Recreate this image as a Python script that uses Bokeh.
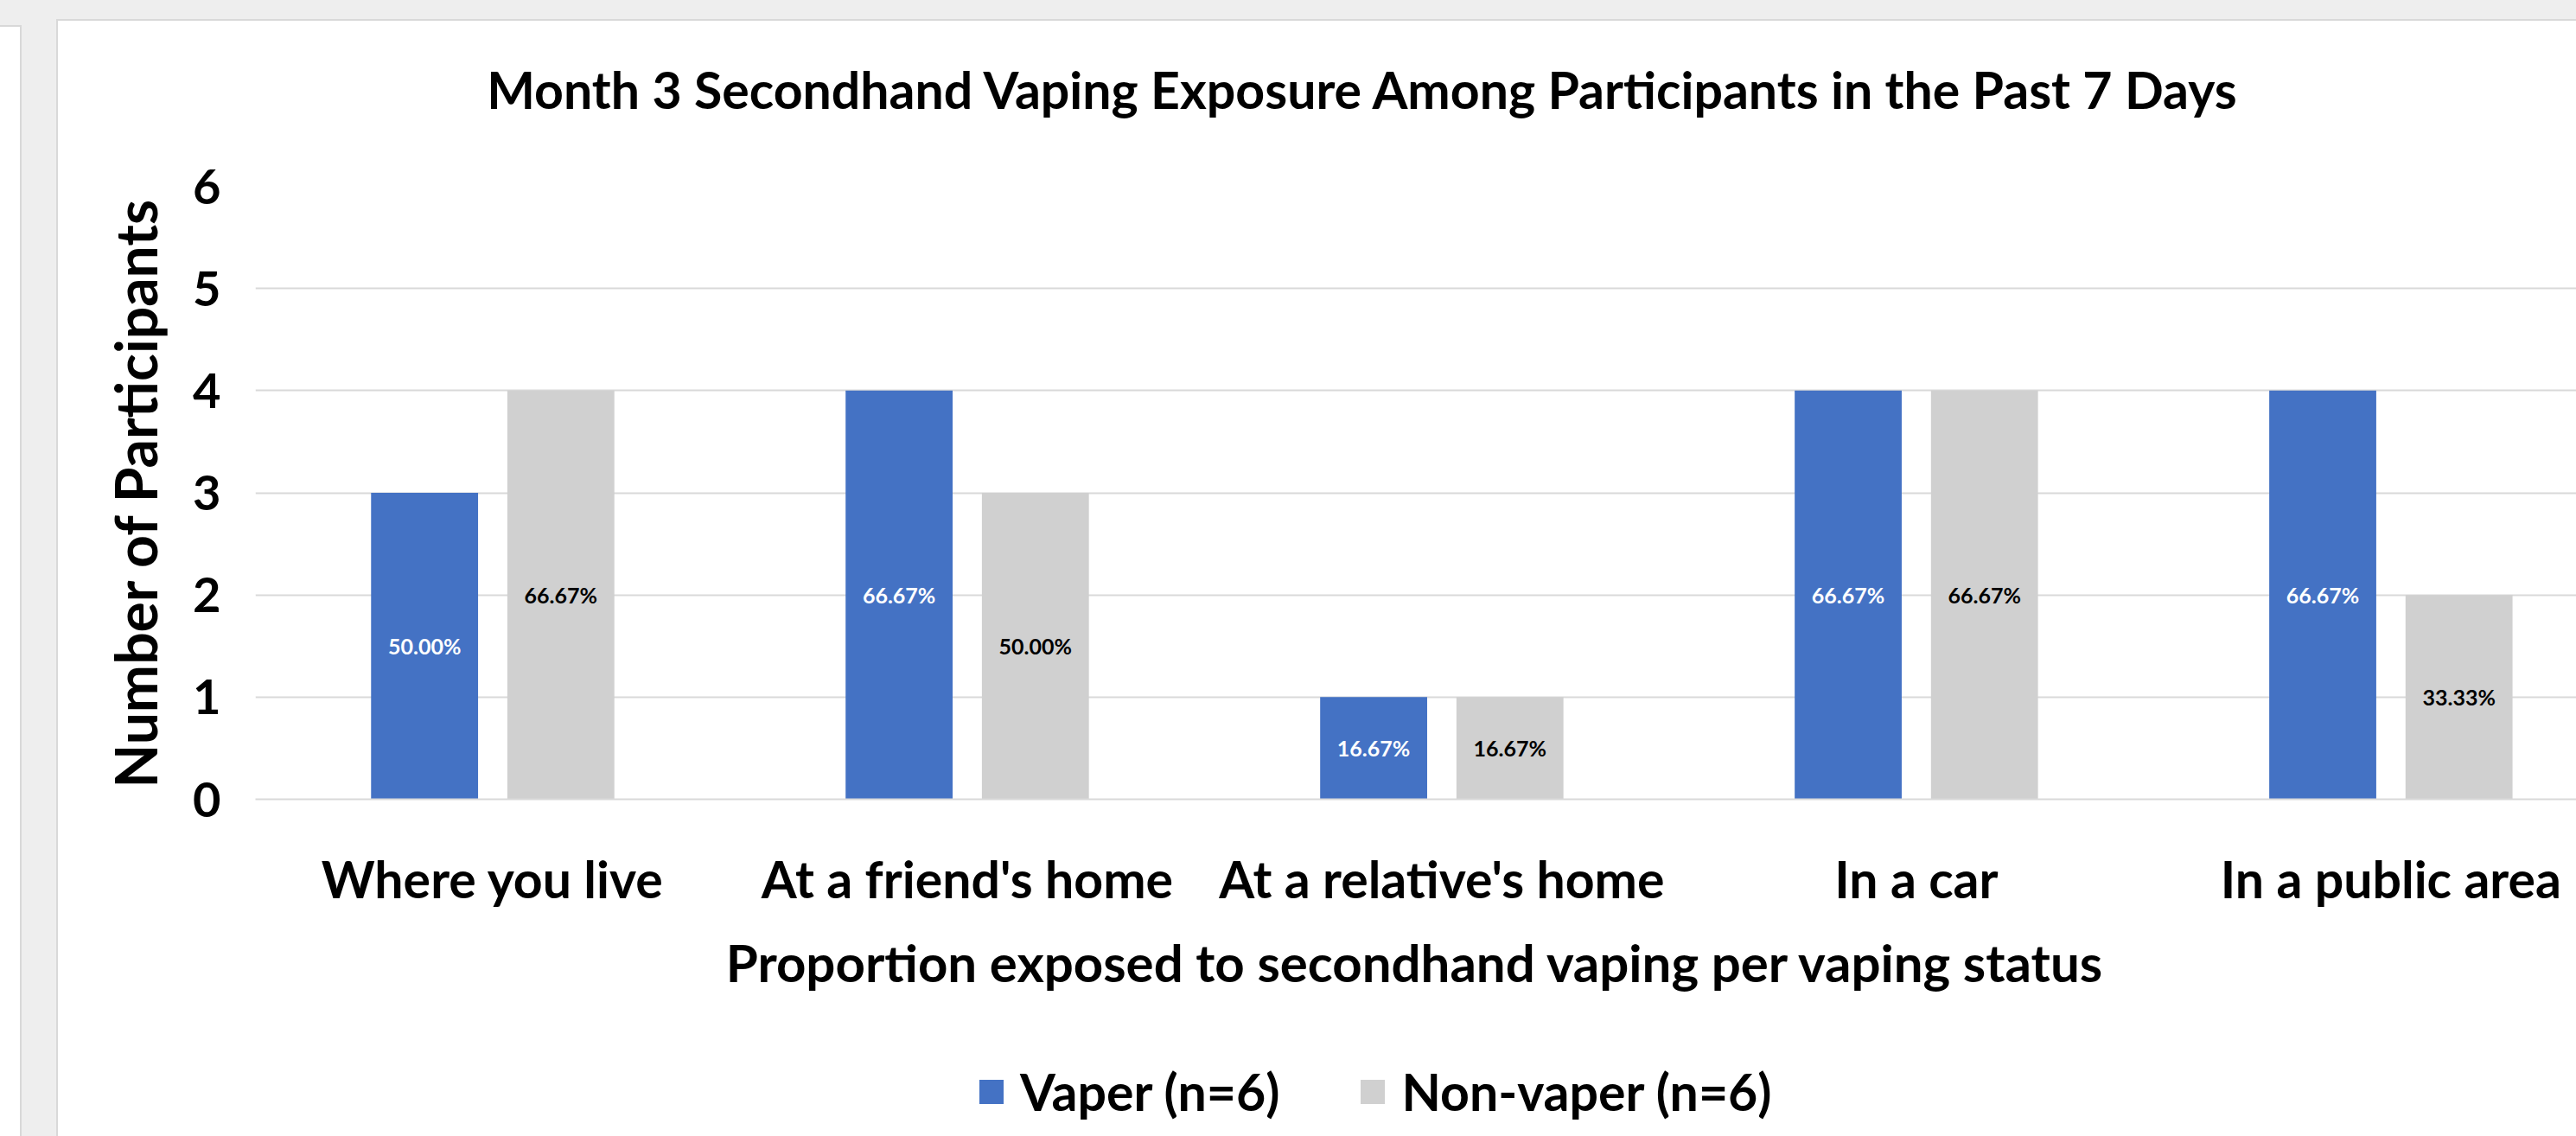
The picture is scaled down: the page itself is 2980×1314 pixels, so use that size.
from bokeh.plotting import figure
from bokeh.models import Range1d, FixedTicker, Legend, LegendItem, Label, Div, ColumnDataSource
from bokeh.layouts import row, column
from bokeh.embed import file_html
from bokeh.resources import INLINE
from bokeh.core.properties import value

# ---- data ----
categories = ["Where you live", "At a friend's home", "At a relative's home", "In a car", "In a public area"]
vaper = [3, 4, 1, 4, 4]
non_vaper = [4, 3, 1, 4, 2]
vaper_labels = ["50.00%", "66.67%", "16.67%", "66.67%", "66.67%"]
non_vaper_labels = ["66.67%", "50.00%", "16.67%", "66.67%", "33.33%"]
series_names = ["Vaper (n=6)", "Non-vaper (n=6)"]
y_ticks = [0, 1, 2, 3, 4, 5, 6]
title_text = "Month 3 Secondhand Vaping Exposure Among Participants in the Past 7 Days"
x_title = "Proportion exposed to secondhand vaping per vaping status"
y_title = "Number of Participants"

BLUE = "#4472C4"
GRAY = "#D0D0D0"
FONT = "Lato"

pos = list(range(1, len(categories) + 1))
off = 0.1436
bw = 0.2255

src_v = ColumnDataSource(dict(x=[p_ - off for p_ in pos], top=vaper,
                              ymid=[v / 2 for v in vaper], lab=vaper_labels))
src_n = ColumnDataSource(dict(x=[p_ + off for p_ in pos], top=non_vaper,
                              ymid=[v / 2 for v in non_vaper], lab=non_vaper_labels))

CARD_W = 2913

def strip(h, xr):
    f = figure(width=CARD_W, height=h, output_backend="svg", toolbar_location=None,
               x_range=xr, y_range=Range1d(0, 1),
               min_border_left=0, min_border_right=0, min_border_top=0, min_border_bottom=0,
               x_axis_location=None, y_axis_location=None,
               background_fill_color=None, border_fill_color=None)
    f.outline_line_color = None
    f.xgrid.visible = False
    f.ygrid.visible = False
    return f

# ---- title strip ----
pt = strip(120, Range1d(0, 1))
pt.add_layout(Label(x=1282, y=41, x_units="screen", y_units="screen", text=title_text,
                    text_font=FONT, text_font_style="bold", text_font_size="59px",
                    text_color="black", text_align="center", text_baseline="alphabetic"))

# ---- main chart ----
p = figure(width=CARD_W, height=1046, output_backend="svg", toolbar_location=None,
           x_range=Range1d(0.5, 0.5 + 4.891), y_range=Range1d(0, 6),
           min_border_left=228, min_border_right=0, min_border_top=71, min_border_bottom=266,
           background_fill_color=None, border_fill_color=None, title=None)
p.outline_line_color = None

rv = p.vbar(x="x", top="top", width=bw, source=src_v, color=BLUE, line_color=None)
rn = p.vbar(x="x", top="top", width=bw, source=src_n, color=GRAY, line_color=None)

p.text(x="x", y="ymid", text="lab", source=src_v, text_color="white",
       text_font=value(FONT), text_font_style="bold", text_font_size="25px",
       text_align="center", text_baseline="middle")
p.text(x="x", y="ymid", text="lab", source=src_n, text_color="black",
       text_font=value(FONT), text_font_style="bold", text_font_size="25px",
       text_align="center", text_baseline="middle")

p.xgrid.grid_line_color = None
p.ygrid.grid_line_color = "#d9d9d9"
p.ygrid.grid_line_width = 2
p.ygrid.ticker = FixedTicker(ticks=y_ticks)

xa = p.xaxis[0]
xa.ticker = FixedTicker(ticks=pos)
xa.major_label_overrides = {k: c for k, c in zip(pos, categories)}
xa.axis_line_color = "#d9d9d9"
xa.axis_line_width = 2
xa.major_tick_line_color = None
xa.minor_tick_line_color = None
xa.major_label_text_font = FONT
xa.major_label_text_font_style = "bold"
xa.major_label_text_font_size = "59px"
xa.major_label_text_color = "black"
xa.major_label_standoff = 50
xa.axis_label = x_title
xa.axis_label_text_font = FONT
xa.axis_label_text_font_style = "bold"
xa.axis_label_text_font_size = "60px"
xa.axis_label_text_color = "black"
xa.axis_label_standoff = 22

ya = p.yaxis[0]
ya.ticker = FixedTicker(ticks=y_ticks)
ya.axis_line_color = None
ya.major_tick_line_color = None
ya.minor_tick_line_color = None
ya.major_label_text_font = FONT
ya.major_label_text_font_style = "bold"
ya.major_label_text_font_size = "56px"
ya.major_label_text_color = "black"
ya.major_label_standoff = 34
ya.axis_label = y_title
ya.axis_label_text_font = FONT
ya.axis_label_text_font_style = "bold"
ya.axis_label_text_font_size = "66px"
ya.axis_label_text_color = "black"
ya.axis_label_standoff = 24

# ---- legend strip ----
pl = strip(124, Range1d(-20, -19))
lv = pl.vbar(x="x", top="top", width=bw, source=src_v, color=BLUE, line_color=None)
ln = pl.vbar(x="x", top="top", width=bw, source=src_n, color=GRAY, line_color=None)
legend = Legend(items=[LegendItem(label=series_names[0], renderers=[lv]),
                       LegendItem(label=series_names[1], renderers=[ln])],
                orientation="horizontal", location=(834, 16),
                label_text_font=FONT, label_text_font_style="bold", label_text_font_size="59px",
                label_text_color="black", glyph_width=35, glyph_height=35,
                label_standoff=16, spacing=90, padding=0, margin=0,
                border_line_color=None, background_fill_alpha=0)
pl.add_layout(legend, "center")

card = column(pt, p, pl, margin=(22, 0, 0, 40),
              styles={"background-color": "white",
                      "border-top": "2px solid #d9d9d9", "border-left": "2px solid #d9d9d9"})

left_panel = Div(width=25, height=1285, margin=(29, 0, 0, 0),
                 styles={"background-color": "white", "border-right": "2px solid #d8d8d8",
                         "border-top": "2px solid #d8d8d8", "box-sizing": "border-box"})

layout = row(left_panel, card, styles={"background-color": "#eeeeee"})

open("out.html", "w").write(file_html(layout, INLINE))
